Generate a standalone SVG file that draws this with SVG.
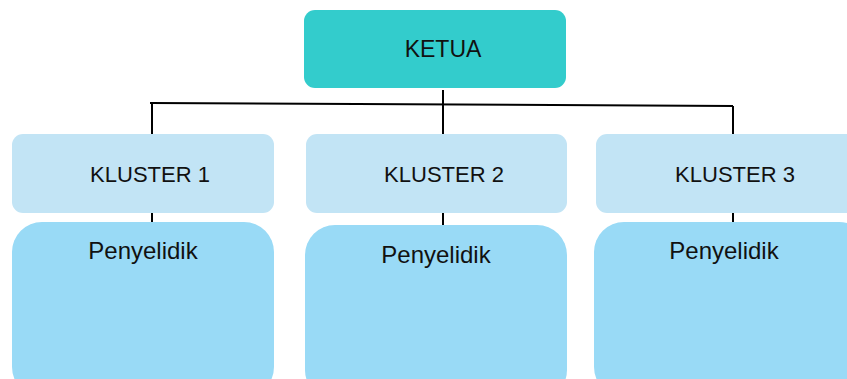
<svg xmlns="http://www.w3.org/2000/svg" width="847" height="379" viewBox="0 0 847 379">
<style>
.t{font-family:"Liberation Sans",Arial,sans-serif;fill:#111;text-anchor:middle}
.k{fill:#C2E4F5}
.p{fill:#99DAF6}
.ln{stroke:#000;stroke-width:2;fill:none}
</style>
<rect width="847" height="379" fill="#fff"/>
<g id="connectors">
<path class="ln" d="M150,103 L733,106"/>
<path class="ln" d="M443,90 V135"/>
<path class="ln" d="M152,104 V134"/>
<path class="ln" d="M733,106 V134"/>
<path class="ln" d="M152,213 V222"/>
<path class="ln" d="M443,213 V225"/>
<path class="ln" d="M733,213 V222"/>
</g>
<g id="ketua">
<rect x="304" y="10" width="262" height="78" rx="11" fill="#33CCCC"/>
<text class="t" x="443" y="57" font-size="23">KETUA</text>
</g>
<g id="kluster1">
<rect class="k" x="12" y="134" width="262" height="79" rx="11"/>
<text class="t" x="150" y="182" font-size="22">KLUSTER 1</text>
</g>
<g id="kluster2">
<rect class="k" x="306" y="134" width="261" height="79" rx="11"/>
<text class="t" x="444" y="182" font-size="22">KLUSTER 2</text>
</g>
<g id="kluster3">
<rect class="k" x="596" y="134" width="270" height="79" rx="11"/>
<text class="t" x="735" y="182" font-size="22">KLUSTER 3</text>
</g>
<g id="penyelidik1">
<rect class="p" x="12" y="222" width="262" height="175" rx="30"/>
<text class="t" x="143" y="259" font-size="24">Penyelidik</text>
</g>
<g id="penyelidik2">
<rect class="p" x="305" y="225" width="262" height="175" rx="30"/>
<text class="t" x="436" y="263" font-size="24">Penyelidik</text>
</g>
<g id="penyelidik3">
<rect class="p" x="594" y="222" width="275" height="175" rx="30"/>
<text class="t" x="724" y="259" font-size="24">Penyelidik</text>
</g>
</svg>
